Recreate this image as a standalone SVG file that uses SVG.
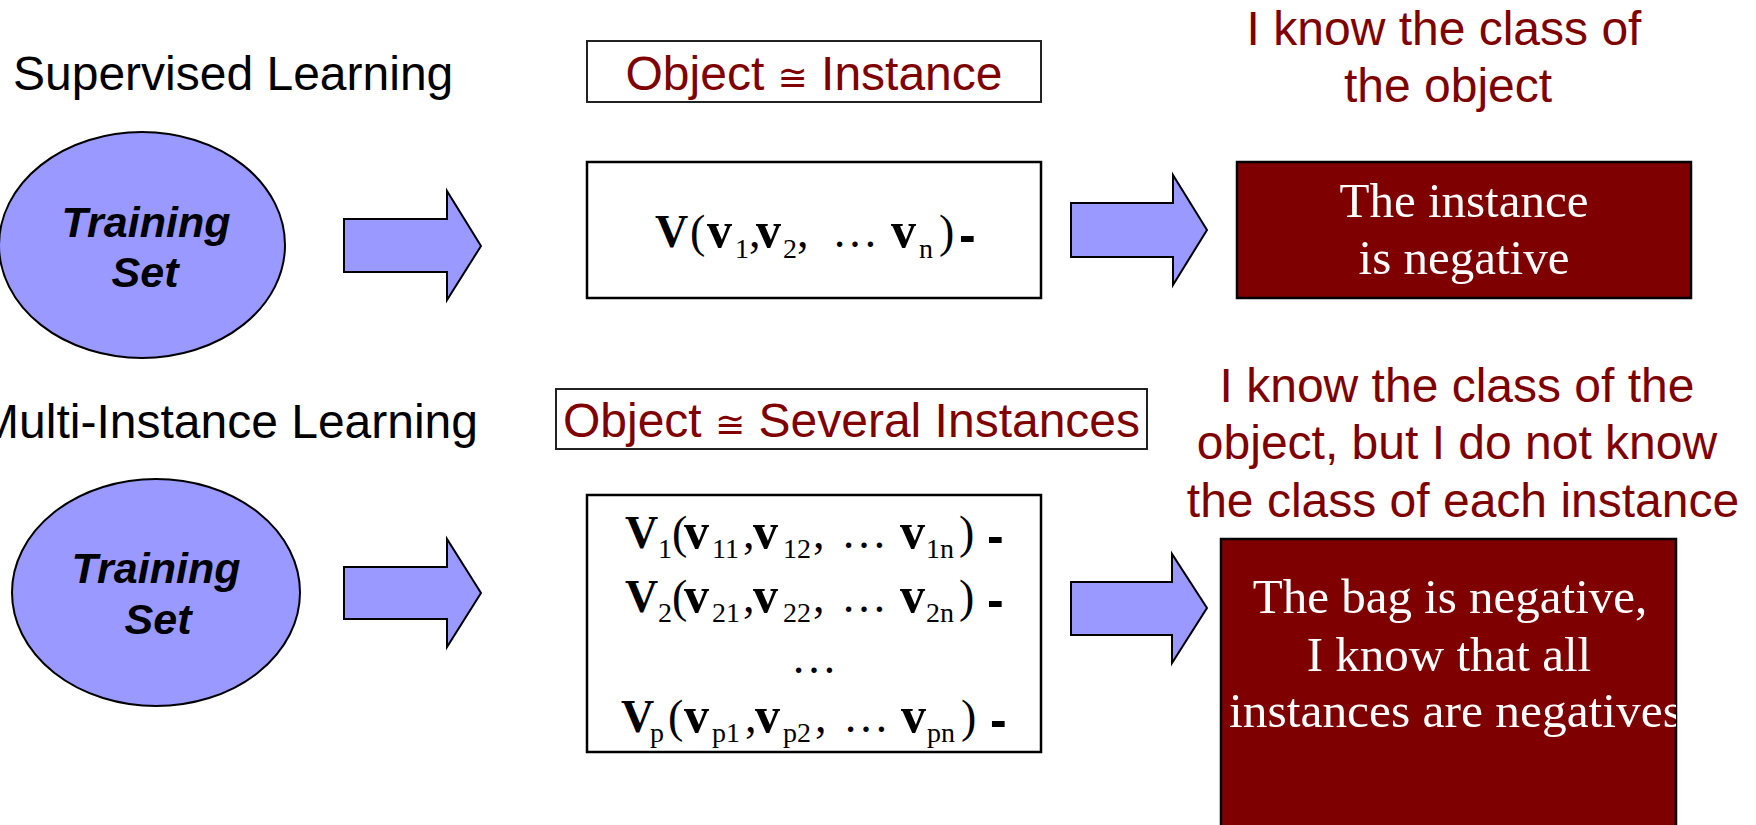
<svg xmlns="http://www.w3.org/2000/svg" width="1756" height="825" viewBox="0 0 1756 825">
<style>
.title{font-family:"Liberation Sans",Arial,sans-serif;font-size:48px;fill:#000}
.red{font-family:"Liberation Sans",Arial,sans-serif;font-size:48px;fill:#800000}
.ts{font-family:"Liberation Sans",Arial,sans-serif;font-size:43px;font-weight:bold;font-style:italic;fill:#000;text-anchor:middle}
.ell{fill:#9999ff;stroke:#000;stroke-width:2}
.arrow{fill:#9999ff;stroke:#000;stroke-width:2;stroke-linejoin:miter}
.obox{fill:#fff;stroke:#222;stroke-width:2}
.vbox{fill:#fff;stroke:#000;stroke-width:2.5}
.rbox{fill:#7f0000;stroke:#000;stroke-width:2.5}
.wt{font-family:"Liberation Serif","Times New Roman",serif;font-size:49px;fill:#fff}
.m{font-family:"Liberation Serif","Times New Roman",serif;font-size:46px;fill:#000}
.b{font-weight:bold}
.v{font-weight:bold;font-size:50px}
.s{font-size:28px;font-weight:normal}
.d{font-family:"Liberation Sans",Arial,sans-serif;font-size:50px;font-weight:bold;fill:#000}
</style>
<defs>
<clipPath id="clip2"><rect x="1221" y="539" width="455" height="290"/></clipPath>
</defs>

<g id="label-supervised">
<text class="title" x="13" y="90">Supervised Learning</text>
</g>
<g id="label-multi">
<text class="title" x="478" y="438" text-anchor="end">Multi-Instance Learning</text>
</g>

<g id="training-set-1">
<ellipse class="ell" cx="142" cy="245" rx="143" ry="113"/>
<text class="ts" x="146" y="237">Training</text>
<text class="ts" x="145" y="287">Set</text>
</g>

<g id="training-set-2">
<ellipse class="ell" cx="156" cy="592.5" rx="144" ry="113.5"/>
<text class="ts" x="156" y="583">Training</text>
<text class="ts" x="158" y="634">Set</text>
</g>

<g id="object-instance">
<rect class="obox" x="587" y="41" width="454" height="61"/>
<text class="red" x="814" y="90" text-anchor="middle">Object  <tspan font-family="'DejaVu Sans',sans-serif" font-size="36">≅</tspan> Instance</text>
</g>

<g id="object-several">
<rect class="obox" x="556" y="389" width="591" height="60"/>
<text class="red" x="851.5" y="437" text-anchor="middle">Object  <tspan font-family="'DejaVu Sans',sans-serif" font-size="36">≅</tspan> Several Instances</text>
</g>

<g id="vector-single">
<rect class="vbox" x="587" y="162" width="454" height="136"/>
<text class="m">
<tspan class="b" x="655" y="247">V</tspan><tspan x="690" y="247">(</tspan><tspan class="v" x="707" y="247">v</tspan><tspan class="s" x="735" y="258">1</tspan><tspan x="749" y="247">,</tspan><tspan class="v" x="756" y="247">v</tspan><tspan class="s" x="783" y="258">2</tspan><tspan x="797" y="247">,</tspan><tspan x="832" y="247">…</tspan><tspan class="v" x="891" y="247">v</tspan><tspan class="s" x="919" y="258">n</tspan><tspan x="939" y="247">)</tspan>
</text>
<text class="d" x="959" y="252">-</text>
</g>

<g id="vector-bag">
<rect class="vbox" x="587" y="495" width="454" height="257"/>
<text class="m">
<tspan class="b" x="625" y="548">V</tspan><tspan class="s" x="658" y="558">1</tspan><tspan x="672" y="548">(</tspan><tspan class="v" x="684" y="548">v</tspan><tspan class="s" x="712" y="558">11</tspan><tspan x="743" y="548">,</tspan><tspan class="v" x="753" y="548">v</tspan><tspan class="s" x="783" y="558">12</tspan><tspan x="813" y="548">,</tspan><tspan x="841" y="548">…</tspan><tspan class="v" x="900" y="548">v</tspan><tspan class="s" x="926" y="558">1n</tspan><tspan x="959" y="548">)</tspan>
</text>
<text class="d" x="987" y="553">-</text>
<text class="m">
<tspan class="b" x="625" y="612">V</tspan><tspan class="s" x="658" y="622">2</tspan><tspan x="672" y="612">(</tspan><tspan class="v" x="684" y="612">v</tspan><tspan class="s" x="712" y="622">21</tspan><tspan x="743" y="612">,</tspan><tspan class="v" x="753" y="612">v</tspan><tspan class="s" x="783" y="622">22</tspan><tspan x="813" y="612">,</tspan><tspan x="841" y="612">…</tspan><tspan class="v" x="900" y="612">v</tspan><tspan class="s" x="926" y="622">2n</tspan><tspan x="959" y="612">)</tspan>
</text>
<text class="d" x="987" y="617">-</text>
<text class="m" x="814" y="673" text-anchor="middle">…</text>
<text class="m">
<tspan class="b" x="621" y="732">V</tspan><tspan class="s" x="650" y="742">p</tspan><tspan x="668" y="732">(</tspan><tspan class="v" x="684" y="732">v</tspan><tspan class="s" x="712" y="742">p1</tspan><tspan x="745" y="732">,</tspan><tspan class="v" x="755" y="732">v</tspan><tspan class="s" x="783" y="742">p2</tspan><tspan x="815" y="732">,</tspan><tspan x="843" y="732">…</tspan><tspan class="v" x="901" y="732">v</tspan><tspan class="s" x="927" y="742">pn</tspan><tspan x="961" y="732">)</tspan>
</text>
<text class="d" x="990" y="737">-</text>
</g>

<g id="note-supervised">
<text class="red" x="1444" y="45" text-anchor="middle">I know the class of</text>
<text class="red" x="1448" y="102" text-anchor="middle">the object</text>
</g>

<g id="note-multi">
<text class="red" x="1457" y="402" text-anchor="middle">I know the class of the</text>
<text class="red" x="1457" y="459" text-anchor="middle">object, but I do not know</text>
<text class="red" x="1463" y="517" text-anchor="middle">the class of each instance</text>
</g>

<g id="result-instance">
<rect class="rbox" x="1237" y="162" width="454" height="136"/>
<text class="wt" x="1464" y="217" text-anchor="middle">The instance</text>
<text class="wt" x="1464" y="274" text-anchor="middle">is negative</text>
</g>

<g id="result-bag">
<rect class="rbox" x="1221" y="539" width="455" height="300"/>
<g clip-path="url(#clip2)">
<text class="wt" x="1450" y="613" text-anchor="middle">The bag is negative,</text>
<text class="wt" x="1449" y="671" text-anchor="middle">I know that all</text>
<text class="wt" x="1229" y="727" textLength="453" lengthAdjust="spacingAndGlyphs">instances are negatives</text>
</g>
</g>

<g id="connectors">
<polygon class="arrow" points="344,219 447,219 447,191 481,246 447,300 447,272 344,272"/>
<polygon class="arrow" points="1071,203 1173,203 1173,175 1207,230 1173,285 1173,257 1071,257"/>
<polygon class="arrow" points="344,567 447,567 447,539 481,593 447,647 447,619 344,619"/>
<polygon class="arrow" points="1071,582 1172,582 1172,554 1207,608 1172,663 1172,635 1071,635"/>
</g>
</svg>
